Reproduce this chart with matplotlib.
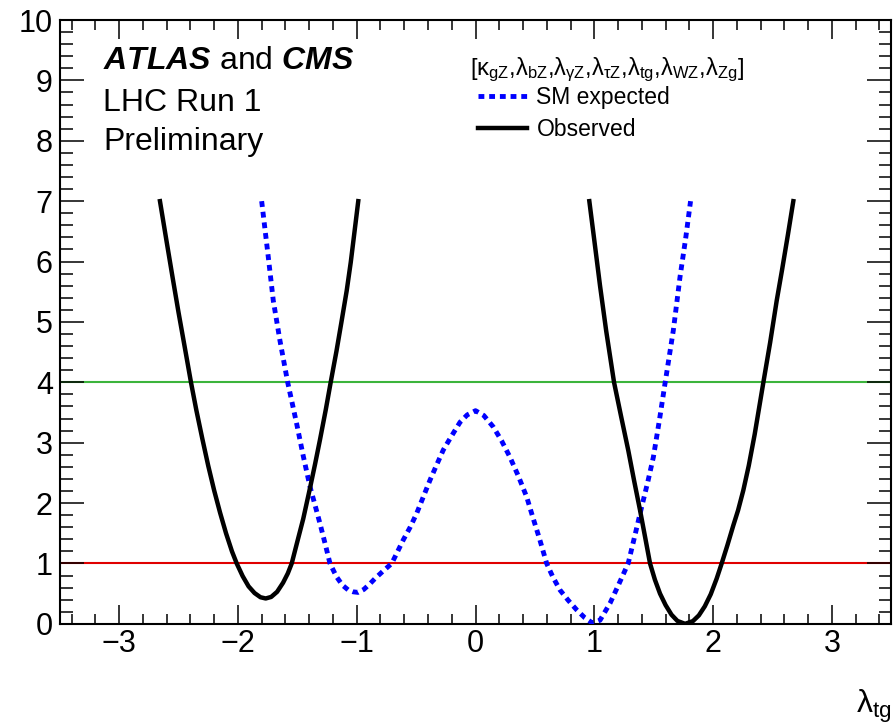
import matplotlib
matplotlib.use("Agg")
import matplotlib.pyplot as plt
from matplotlib.ticker import MultipleLocator, AutoMinorLocator

plt.rcParams["font.family"] = ["Liberation Sans", "DejaVu Sans"]
plt.rcParams["mathtext.fontset"] = "custom"
plt.rcParams["mathtext.rm"] = "Liberation Sans"
plt.rcParams["mathtext.it"] = "Liberation Sans:italic"
plt.rcParams["mathtext.bf"] = "Liberation Sans:bold"
plt.rcParams["mathtext.bfit"] = "Liberation Sans:italic:bold"
plt.rcParams["mathtext.default"] = "regular"

# Observed scan, left minimum
obs_left_x = [-2.656, -2.60, -2.55, -2.50, -2.45, -2.395, -2.35, -2.30, -2.25, -2.20,
              -2.15, -2.10, -2.05, -2.01, -1.96, -1.91, -1.86, -1.81, -1.766,
              -1.72, -1.67, -1.62, -1.58, -1.547, -1.50, -1.45, -1.393, -1.35,
              -1.309, -1.26, -1.219, -1.17, -1.13, -1.084, -1.05, -1.01, -0.987]
obs_left_y = [7.0, 6.33, 5.74, 5.16, 4.61, 4.0, 3.54, 3.07, 2.62, 2.21,
              1.84, 1.50, 1.20, 1.0, 0.79, 0.62, 0.51, 0.44, 0.42,
              0.445, 0.53, 0.68, 0.835, 1.0, 1.36, 1.74, 2.25, 2.65,
              3.05, 3.55, 4.0, 4.52, 4.98, 5.52, 5.99, 6.63, 7.0]

# Observed scan, right minimum
obs_right_x = [0.958, 1.0, 1.048, 1.10, 1.166, 1.226, 1.286, 1.335, 1.385, 1.43,
               1.469, 1.51, 1.553, 1.60, 1.65, 1.70, 1.764, 1.83, 1.88, 1.93,
               1.98, 2.03, 2.072, 2.12, 2.17, 2.21, 2.254, 2.30, 2.35, 2.423,
               2.48, 2.535, 2.58, 2.63, 2.675]
obs_right_y = [7.0, 6.35, 5.6, 4.85, 4.0, 3.43, 2.87, 2.37, 1.88, 1.41,
               1.0, 0.73, 0.5, 0.31, 0.15, 0.047, 0.0, 0.045, 0.14, 0.29,
               0.49, 0.75, 1.0, 1.3, 1.63, 1.88, 2.21, 2.62, 3.14, 4.0,
               4.66, 5.35, 5.86, 6.45, 7.0]

# SM expected scan
exp_x = [-1.80, -1.77, -1.744, -1.702, -1.646, -1.581, -1.505, -1.45, -1.393, -1.35,
         -1.309, -1.265, -1.225, -1.17, -1.12, -1.071, -1.03, -0.987, -0.94, -0.89,
         -0.846, -0.78, -0.705, -0.66, -0.608, -0.55, -0.495, -0.44, -0.383, -0.33,
         -0.271, -0.229, -0.18, -0.13, -0.07, 0.0, 0.07, 0.15, 0.22, 0.29,
         0.36, 0.431, 0.48, 0.54, 0.599, 0.65, 0.711, 0.78, 0.852, 0.92,
         0.987, 1.048, 1.132, 1.20, 1.285, 1.34, 1.399, 1.45, 1.497, 1.55,
         1.595, 1.665, 1.721, 1.77, 1.81]
exp_y = [7.0, 6.5, 6.07, 5.35, 4.69, 4.0, 3.31, 2.78, 2.27, 1.96,
         1.66, 1.32, 1.0, 0.78, 0.64, 0.56, 0.53, 0.52, 0.57, 0.66,
         0.75, 0.87, 1.0, 1.18, 1.39, 1.6, 1.83, 2.1, 2.38, 2.62,
         2.88, 3.02, 3.18, 3.34, 3.46, 3.53, 3.45, 3.26, 3.03, 2.76,
         2.45, 2.1, 1.78, 1.4, 1.0, 0.78, 0.56, 0.39, 0.23, 0.1,
         0.01, 0.06, 0.34, 0.63, 1.0, 1.45, 1.94, 2.35, 2.76, 3.4,
         3.98, 4.86, 5.74, 6.4, 7.0]

ref_levels = [1, 4]
ref_colors = ["#e00000", "#3cb43c"]

fig = plt.figure(figsize=(8.95, 7.28), dpi=100)
ax = fig.add_axes([0.0667, 0.1431, 0.9292, 0.8294])

for lev, col in zip(ref_levels, ref_colors):
    ax.axhline(lev, color=col, linewidth=1.5, zorder=1.8)

ax.plot(exp_x, exp_y, color="#0000ff", linewidth=3.5,
        linestyle=(0, (1.2, 1.0)), dash_capstyle="butt",
        label="SM expected", zorder=3)
ax.plot(obs_left_x, obs_left_y, color="black", linewidth=3.2,
        label="Observed", zorder=3)
ax.plot(obs_right_x, obs_right_y, color="black", linewidth=3.2, zorder=3)

ax.set_xlim(-3.5, 3.5)
ax.set_ylim(0, 10)
ax.xaxis.set_major_locator(MultipleLocator(1))
ax.xaxis.set_minor_locator(AutoMinorLocator(5))
ax.yaxis.set_major_locator(MultipleLocator(1))
ax.yaxis.set_minor_locator(AutoMinorLocator(5))
ax.set_axisbelow(False)

ax.tick_params(which="both", direction="in", top=True, right=True,
               width=1.1, labelsize=22)
ax.tick_params(axis="x", which="major", length=13.7, pad=4)
ax.tick_params(axis="x", which="minor", length=7.5)
ax.tick_params(axis="y", which="major", length=17.3, pad=5)
ax.tick_params(axis="y", which="minor", length=9)
for sp in ax.spines.values():
    sp.set_linewidth(1.5)

ax.text(0.0523, 0.9189, r"$\mathbfit{ATLAS}$ and $\mathbfit{CMS}$",
        transform=ax.transAxes, fontsize=23, va="baseline", ha="left")
ax.text(0.0523, 0.8501, "LHC Run 1", transform=ax.transAxes,
        fontsize=23, va="baseline", ha="left")
ax.text(0.0523, 0.7847, "Preliminary", transform=ax.transAxes,
        fontsize=23, va="baseline", ha="left")

ax.text(0.4934, 0.909,
        r"$[\kappa_{gZ}{,}\lambda_{bZ}{,}\lambda_{\gamma Z}{,}\lambda_{\tau Z}{,}"
        r"\lambda_{tg}{,}\lambda_{WZ}{,}\lambda_{Zg}]$",
        transform=ax.transAxes, fontsize=17, va="baseline", ha="left")

ax.legend(loc="upper left", bbox_to_anchor=(0.503, 0.890), frameon=False,
          fontsize=16.5, handlelength=2.15, handletextpad=0.4, labelspacing=0.38,
          borderpad=0, borderaxespad=0)

fig.text(892 / 895, 1 - 713 / 728, r"$\lambda_{tg}$", fontsize=23,
         ha="right", va="baseline")

fig.savefig("out.png", dpi=100)
